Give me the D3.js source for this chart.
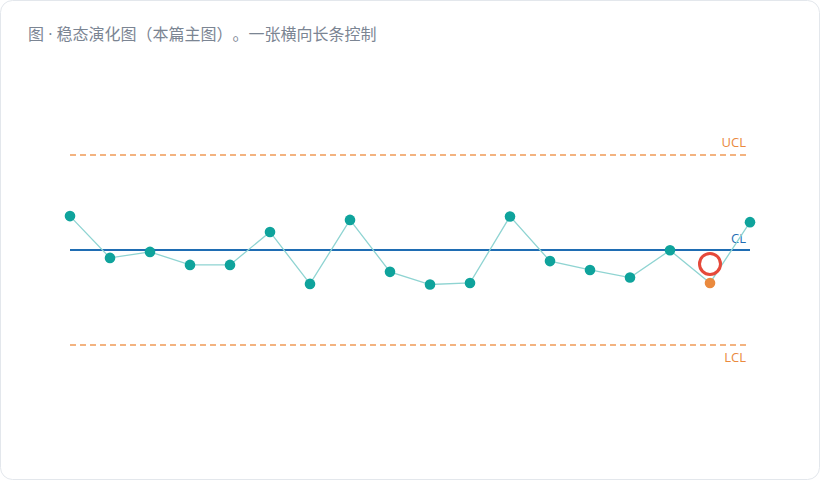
<!DOCTYPE html>
<html>
<head>
<meta charset="utf-8">
<script src="https://cdn.jsdelivr.net/npm/d3@7"></script>
<style>
  html, body { margin: 0; padding: 0; background: #fff; }
  svg { display: block; font-family: "Open Sans", "Noto Sans CJK SC", sans-serif; }
  .title { text-spacing-trim: space-all; }
</style>
</head>
<body>
<svg id="chart" width="820" height="480"></svg>
<script>
// sample values (per subgroup)
const samples = [11.07, 9.75, 9.94, 9.53, 9.53, 10.57, 8.93, 10.95, 9.31, 8.91,
                 8.96, 11.06, 9.65, 9.37, 9.13, 9.99, 8.96, 10.88];
const flagIndex = 16;        // point that breaks the pattern
const flagRingValue = 9.56;  // ring drawn just above it
const CL = 10, UCL = 13, LCL = 7;
const limitNames = ['UCL', 'CL', 'LCL'];

const svg = d3.select('#chart');
const W = 820, H = 480;

// card
svg.append('rect')
    .attr('x', 0.5).attr('y', 0.5)
    .attr('width', W - 1).attr('height', H - 1)
    .attr('rx', 12)
    .attr('fill', '#fff')
    .attr('stroke', '#e3e7ec');

svg.append('text')
    .classed('title', true)
    .attr('x', 28).attr('y', 40)
    .attr('font-size', 16)
    .attr('fill', '#7b8593')
    .text('图 · 稳态演化图（本篇主图）。一张横向长条控制');

let x = d3.scaleLinear()
    .domain([0, samples.length - 1])
    .range([70, 750]);

let y = d3.scaleLinear()
    .domain([LCL, UCL])
    .range([345, 155]);

let g = svg.append('g');

// limit lines
g.selectAll('line.limit')
    .data([UCL, LCL])
    .join('line')
    .classed('limit', true)
    .attr('x1', x(0)).attr('x2', x(samples.length - 1))
    .attr('y1', d => y(d)).attr('y2', d => y(d))
    .attr('stroke', '#ef9a57')
    .attr('stroke-width', 1.6)
    .attr('stroke-dasharray', '6,4');

g.append('line')
    .attr('x1', x(0)).attr('x2', x(samples.length - 1))
    .attr('y1', y(CL)).attr('y2', y(CL))
    .attr('stroke', '#1f6db3')
    .attr('stroke-width', 2);

// labels
let labelData = [
    {name: limitNames[0], v: UCL, dy: -8, color: '#ea8a3e'},
    {name: limitNames[1], v: CL, dy: -7, color: '#1f6db3'},
    {name: limitNames[2], v: LCL, dy: 17, color: '#ea8a3e'}
];
g.selectAll('text.lbl')
    .data(labelData)
    .join('text')
    .classed('lbl', true)
    .attr('x', 746)
    .attr('y', d => y(d.v) + d.dy)
    .attr('text-anchor', 'end')
    .attr('font-size', 13)
    .attr('fill', d => d.color)
    .text(d => d.name);

// series line
let line = d3.line()
    .x((d, i) => x(i))
    .y(d => y(d));

g.append('path')
    .datum(samples)
    .attr('d', line)
    .attr('fill', 'none')
    .attr('stroke', '#8fd4d2')
    .attr('stroke-width', 1.3);

// ring marker
g.append('circle')
    .attr('cx', x(flagIndex))
    .attr('cy', y(flagRingValue))
    .attr('r', 10.5)
    .attr('fill', 'none')
    .attr('stroke', '#e5493a')
    .attr('stroke-width', 3);

// points
g.selectAll('circle.pt')
    .data(samples)
    .join('circle')
    .classed('pt', true)
    .attr('cx', (d, i) => x(i))
    .attr('cy', d => y(d))
    .attr('r', 5.3)
    .attr('fill', (d, i) => i === flagIndex ? '#ea8a3e' : '#0fa39c');
</script>
</body>
</html>
